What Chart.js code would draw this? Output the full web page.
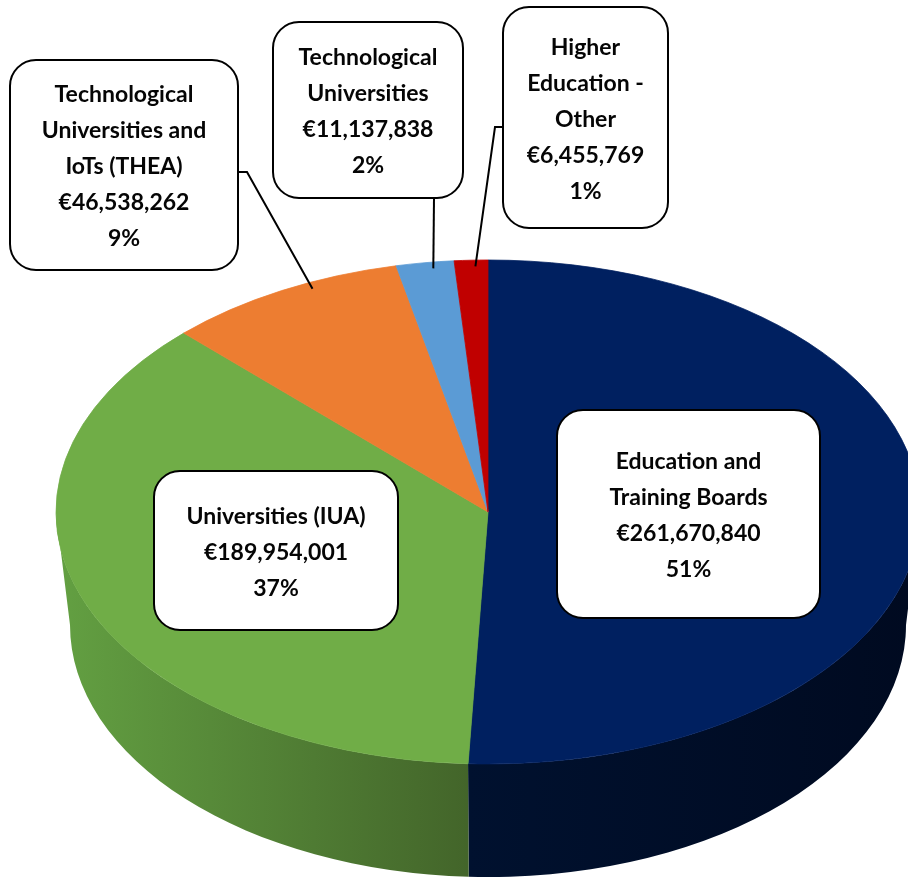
<!DOCTYPE html>
<html>
<head>
<meta charset="utf-8">
<script src="https://cdn.jsdelivr.net/npm/chart.js@4/dist/chart.umd.min.js"></script>
<style>
  html, body { margin: 0; padding: 0; background: #fff; overflow: hidden; }
  canvas { display: block; }
</style>
</head>
<body>
<canvas id="pie" width="908" height="879"></canvas>
<script>
// ---- data ----
const categories = [
  ["Education and", "Training Boards"],
  ["Universities (IUA)"],
  ["Technological", "Universities and", "IoTs (THEA)"],
  ["Technological", "Universities"],
  ["Higher", "Education -", "Other"]
];
const amounts = [261670840, 189954001, 46538262, 11137838, 6455769];

const topColors  = ["#002060", "#70AD47", "#ED7D31", "#5B9BD5", "#C00000"];
const sideColors = [["#00112f", "#000a20"], ["#63a042", "#43652a"], ["#b35e24", "#8a4718"], ["#44759f", "#335a7a"], ["#900000", "#700000"]];

// ellipse of the top face and of the (farther, smaller) bottom rim
const TOP = { cx: 488, cy: 512, rx: 432, ry: 252 };
const BOT = { cx: 488, cy: 625, rx: 418, ry: 252 };

// label boxes (layout only); leader: bend point + end on box edge
const boxes = [
  { x: 557, y: 410, w: 263, h: 208 },
  { x: 154, y: 471, w: 244, h: 159 },
  { x: 10,  y: 60,  w: 228, h: 210, leader: [[247, 172], [238, 172]] },
  { x: 273, y: 22,  w: 190, h: 176, leader: [[434, 198]] },
  { x: 503, y: 7,   w: 165, h: 221, leader: [[495, 127], [503, 127]] }
];
const LEADER_AT = 0.62;   // where along the slice the leader touches the rim

const FONT = "bold 23px Lato";
const LINE_H = 36;

const total = amounts.reduce((s, v) => s + v, 0);
const euro = v => "\u20AC" + v.toLocaleString("en-US");

function ellipsePoint(e, ang, k) {
  return [e.cx + e.rx * k * Math.cos(ang), e.cy + e.ry * k * Math.sin(ang)];
}

// draws the extruded rim, then squashes the library's pie onto the top ellipse
const pie3d = {
  id: "pie3d",
  beforeDatasetsDraw(chart) {
    const ctx = chart.ctx;
    const arcs = chart.getDatasetMeta(0).data;
    arcs.forEach((arc, i) => {
      const a = Math.max(arc.startAngle, 0);
      const b = Math.min(arc.endAngle, Math.PI);
      if (b <= a) return;
      const xa = TOP.cx + TOP.rx * Math.cos(a);
      const xb = TOP.cx + TOP.rx * Math.cos(b);
      const g = ctx.createLinearGradient(Math.min(xa, xb), 0, Math.max(xa, xb), 0);
      // light on the left, dark towards the front/right
      g.addColorStop(0, sideColors[i][0]);
      g.addColorStop(1, sideColors[i][1]);
      ctx.beginPath();
      ctx.ellipse(TOP.cx, TOP.cy, TOP.rx, TOP.ry, 0, a, b);
      ctx.ellipse(BOT.cx, BOT.cy, BOT.rx, BOT.ry, 0, b, a, true);
      ctx.closePath();
      ctx.fillStyle = g;
      ctx.fill();
    });
    const a0 = arcs[0];
    ctx.save();
    ctx.translate(TOP.cx, TOP.cy);
    ctx.scale(TOP.rx / a0.outerRadius, TOP.ry / a0.outerRadius);
    ctx.translate(-a0.x, -a0.y);
  },
  afterDatasetsDraw(chart) {
    chart.ctx.restore();
  }
};

function roundBox(ctx, x, y, w, h, r) {
  ctx.beginPath();
  ctx.moveTo(x + r, y);
  ctx.arcTo(x + w, y, x + w, y + h, r);
  ctx.arcTo(x + w, y + h, x, y + h, r);
  ctx.arcTo(x, y + h, x, y, r);
  ctx.arcTo(x, y, x + w, y, r);
  ctx.closePath();
}

const callouts = {
  id: "callouts",
  afterDraw(chart) {
    const ctx = chart.ctx;
    const arcs = chart.getDatasetMeta(0).data;
    ctx.save();
    ctx.strokeStyle = "#000";
    ctx.lineWidth = 2;
    arcs.forEach((arc, i) => {
      const bx = boxes[i];
      if (!bx.leader) return;
      const ang = arc.startAngle + LEADER_AT * (arc.endAngle - arc.startAngle);
      const p = ellipsePoint(TOP, ang, 0.975);
      ctx.beginPath();
      ctx.moveTo(p[0], p[1]);
      bx.leader.forEach(q => ctx.lineTo(q[0], q[1]));
      ctx.stroke();
    });
    arcs.forEach((arc, i) => {
      const bx = boxes[i];
      roundBox(ctx, bx.x, bx.y, bx.w, bx.h, 26);
      ctx.fillStyle = "#fff";
      ctx.fill();
      ctx.stroke();
      const lines = categories[i].concat([euro(amounts[i]), Math.round(amounts[i] / total * 100) + "%"]);
      ctx.fillStyle = "#050505";
      ctx.font = FONT;
      ctx.textAlign = "center";
      ctx.textBaseline = "middle";
      const cx = bx.x + bx.w / 2;
      const y0 = bx.y + bx.h / 2 - (lines.length - 1) * LINE_H / 2 + 2;
      lines.forEach((t, k) => ctx.fillText(t, cx, y0 + k * LINE_H));
    });
    ctx.restore();
  }
};

new Chart(document.getElementById("pie"), {
  type: "pie",
  data: {
    labels: categories,
    datasets: [{
      data: amounts,
      backgroundColor: topColors,
      borderColor: topColors,
      borderWidth: 1
    }]
  },
  options: {
    responsive: false,
    animation: false,
    events: [],
    layout: { padding: 0 },
    plugins: {
      legend: { display: false },
      tooltip: { enabled: false }
    }
  },
  plugins: [pie3d, callouts]
});
</script>
</body>
</html>
